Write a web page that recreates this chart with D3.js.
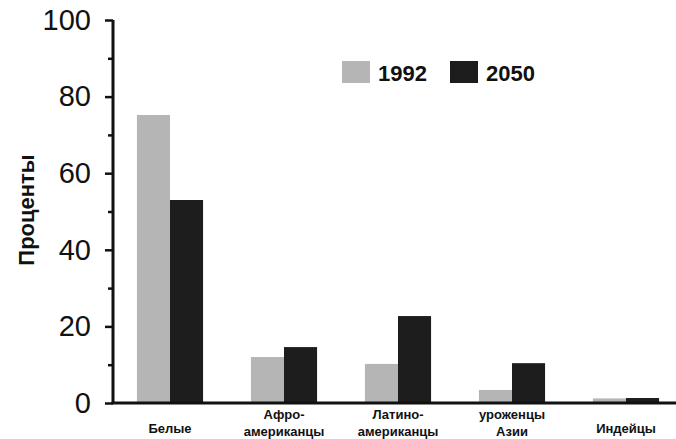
<!DOCTYPE html>
<html>

<head>
    <meta charset='utf-8'>
    <title>Проценты</title>
    <script type='text/javascript' src='https://cdn.jsdelivr.net/npm/d3@7'></script>
    <style>
        body { margin: 0; background: #fff; }
        text { font-family: 'Liberation Sans', Arial, sans-serif; fill: #111; }
    </style>
</head>

<body>
    <svg width='676' height='439'></svg>
    <script type='text/javascript'>

        const categories = ['Белые', 'Афро-американцы', 'Латино-американцы', 'уроженцы Азии', 'Индейцы']
        const labelLines = [['Белые'], ['Афро-', 'американцы'], ['Латино-', 'американцы'], ['уроженцы', 'Азии'], ['Индейцы']]
        const series = ['1992', '2050']
        const values1992 = [75.2, 12, 10.2, 3.4, 1.2]
        const values2050 = [53, 14.6, 22.7, 10.4, 1.3]
        const yTicks = [0, 20, 40, 60, 80, 100]
        const yMinorTicks = [10, 30, 50, 70, 90]

        const svg = d3.select('svg')
        const colors = d3.scaleOrdinal().domain(series).range(['#b5b5b5', '#1d1d1d'])

        const x = d3.scaleBand().domain(categories).range([113, 683]).paddingInner(0.42).paddingOuter(0.21)
        const xSub = d3.scaleBand().domain(series).range([0, x.bandwidth()])
        const y = d3.scaleLinear().domain([0, 100]).range([403, 20])

        const rows = categories.map((c, i) => ({ cat: c, vals: [values1992[i], values2050[i]] }))

        // бары
        const groups = svg.append('g').selectAll('g').data(rows).enter()
            .append('g').attr('transform', d => `translate(${x(d.cat)},0)`)
        groups.selectAll('rect').data(d => d.vals.map((v, j) => ({ key: series[j], v: v }))).enter()
            .append('rect')
            .attr('x', d => xSub(d.key))
            .attr('width', xSub.bandwidth())
            .attr('y', d => y(d.v))
            .attr('height', d => y(0) - y(d.v))
            .attr('fill', d => colors(d.key))

        // ось Y
        const yAxis = svg.append('g').attr('transform', 'translate(113,0)')
            .call(d3.axisLeft(y).tickValues(yTicks).tickSize(8).tickPadding(14))
        yAxis.select('.domain').attr('stroke', '#111').attr('stroke-width', 3).attr('d', `M0,${y(100)}V${y(0)}`)
        yAxis.selectAll('.tick line').attr('stroke', '#111').attr('stroke-width', 2.5)
        yAxis.selectAll('.tick text').attr('font-size', 29).style('fill', '#111')
        svg.append('g').attr('transform', 'translate(113,0)')
            .call(d3.axisLeft(y).tickValues(yMinorTicks).tickSize(5).tickFormat(''))
            .call(g => g.select('.domain').remove())
            .selectAll('.tick line').attr('stroke', '#111').attr('stroke-width', 2.5)

        // ось X
        svg.append('line')
            .attr('x1', 111.5).attr('x2', 676)
            .attr('y1', y(0)).attr('y2', y(0))
            .attr('stroke', '#111').attr('stroke-width', 3)

        const xl = svg.append('g').selectAll('text').data(categories).enter()
            .append('text')
            .attr('text-anchor', 'middle')
            .attr('font-size', 13)
            .attr('font-weight', 'bold')
            .attr('transform', d => `translate(${x(d) + x.bandwidth() / 2},0)`)
        xl.each(function (d, i) {
            const lines = labelLines[i]
            const base = lines.length === 1 ? [433] : [419, 436]
            d3.select(this).selectAll('tspan').data(lines).enter()
                .append('tspan').attr('x', 0).attr('y', (l, k) => base[k]).text(l => l)
        })

        svg.append('text')
            .attr('transform', 'translate(34,210) rotate(-90)')
            .attr('text-anchor', 'middle')
            .attr('font-size', 22)
            .attr('font-weight', 'bold')
            .text('Проценты')

        // легенда
        const legendX = [342, 450]
        const legend = svg.append('g').selectAll('g').data(series).enter()
            .append('g').attr('transform', (d, i) => `translate(${legendX[i]},61)`)
        legend.append('rect').attr('width', 28).attr('height', 22).attr('fill', d => colors(d))
        legend.append('text').attr('x', 36).attr('y', 20)
            .attr('font-size', 22).attr('font-weight', 'bold').text(d => d)
    </script>
</body>

</html>
